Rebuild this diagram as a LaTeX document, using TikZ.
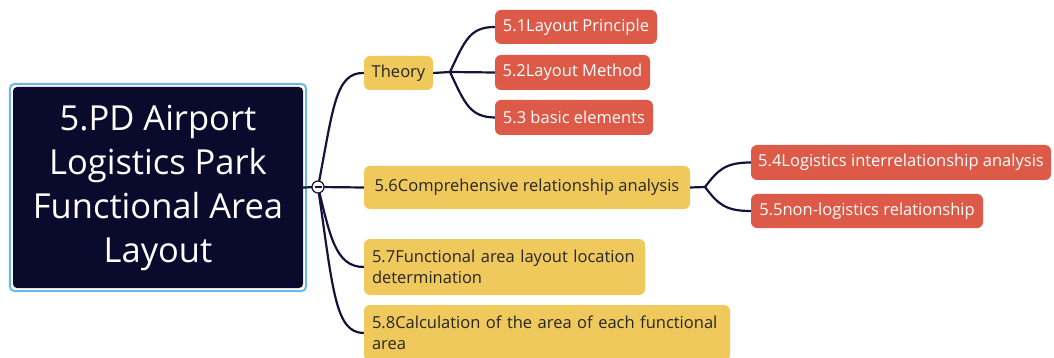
\documentclass[tikz,border=0pt]{standalone}
\usepackage{fontspec}
\setmainfont{Open Sans}
\begin{document}
\begin{tikzpicture}[x=1pt,y=-1pt,
  base/.style={rounded corners=6pt, inner sep=0pt, font=\fontsize{16.5}{21}\selectfont},
  ybox/.style={base, fill=yel, text=txt},
  rbox/.style={base, fill=redc, text=white},
  conn/.style={draw=lin, line width=2.2pt}]
\definecolor{yel}{HTML}{EFC95B}
\definecolor{redc}{HTML}{DC5A47}
\definecolor{txt}{HTML}{262626}
\definecolor{lin}{HTML}{14143A}
\definecolor{rootc}{HTML}{0A0A2C}
\definecolor{rootb}{HTML}{6BB8E8}
\useasboundingbox (0,0) rectangle (1054,358);
\clip (0,0) rectangle (1054,358);

% root
\node[fill=rootc, rounded corners=4pt, minimum width=290pt, minimum height=201pt, inner sep=0pt,
      text=white, align=center, font=\fontsize{34.5}{44}\selectfont] (root) at (158,187.5)
  {5.PD Airport\\Logistics Park\\Functional Area\\Layout};
\draw[rootb, line width=2pt, rounded corners=5pt] ([shift={(-3pt,3pt)}]root.north west) rectangle ([shift={(3pt,-3pt)}]root.south east);

\coordinate (hub) at (318,187);

% level 1
\node[ybox, minimum width=69pt, minimum height=34pt] (theory) at (398.5,73) {Theory};
\node[ybox, minimum width=326pt, minimum height=43pt] (n56) at (527,187.5) {5.6Comprehensive relationship analysis};
\node[ybox, minimum height=56pt, text width=265pt, inner xsep=8pt, align=left] (n57) at (504.5,267)
  {5.7Functional area layout location\\determination};
\node[ybox, minimum height=56pt, text width=350pt, inner xsep=8pt, align=left] (n58) at (547,333)
  {5.8Calculation of the area of each functional\\area};

% level 2
\node[rbox, minimum width=162pt, minimum height=34pt] (n51) at (576,27) {5.1Layout Principle};
\node[rbox, minimum width=155pt, minimum height=35pt] (n52) at (572.5,72.5) {5.2Layout Method};
\node[rbox, minimum width=158pt, minimum height=35pt] (n53) at (574,117.5) {5.3 basic elements};
\node[rbox, minimum width=300pt, minimum height=35pt] (n54) at (901,162.5) {5.4Logistics interrelationship analysis};
\node[rbox, minimum width=232pt, minimum height=34pt] (n55) at (867,211) {5.5non-logistics relationship};

% connectors root
\draw[conn] (root.east) -- (hub);
\draw[conn] (hub) .. controls (333,110) and (335,72) .. (theory.west);
\draw[conn] (hub) -- (n56.west);
\draw[conn] (hub) .. controls (330,235) and (335,267) .. (n57.west);
\draw[conn] (hub) .. controls (333,290) and (335,333) .. (n58.west);

% theory children
\coordinate (tj) at (450,72);
\draw[conn] (theory.east) -- (tj);
\draw[conn] (tj) .. controls (465,40) and (470,27) .. (n51.west);
\draw[conn] (tj) -- (n52.west);
\draw[conn] (tj) .. controls (465,104) and (470,117) .. (n53.west);

% 5.6 children
\coordinate (sj) at (705,187);
\draw[conn] (n56.east) -- (sj);
\draw[conn] (sj) .. controls (718,170) and (725,162.5) .. (n54.west);
\draw[conn] (sj) .. controls (718,204) and (725,211) .. (n55.west);

% collapse marker
\node[circle, draw=lin, fill=white, line width=1.2pt, minimum size=12pt, inner sep=0pt] (hubc) at (hub) {};
\draw[lin, line width=1.4pt] ([xshift=-3.5pt]hubc.center) -- ([xshift=3.5pt]hubc.center);
\end{tikzpicture}
\end{document}
